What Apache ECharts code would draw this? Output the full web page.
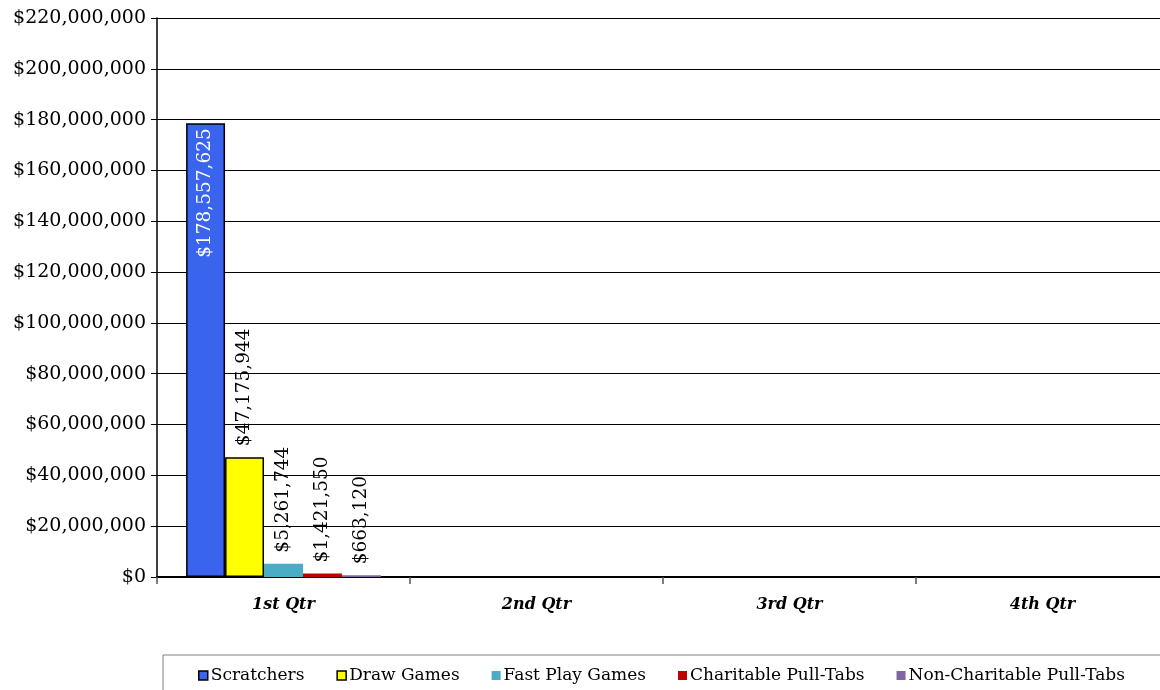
<!DOCTYPE html>
<html>
<head>
<meta charset="utf-8">
<script src="https://cdn.jsdelivr.net/npm/echarts@6/dist/echarts.min.js"></script>
<style>
  html, body { margin: 0; padding: 0; background: #fff; overflow: hidden; }
  #chart { width: 1172px; height: 690px; }
</style>
</head>
<body>
<div id="chart"></div>
<script>
// Quarterly sales by product line
const quarters = ['1st Qtr', '2nd Qtr', '3rd Qtr', '4th Qtr'];
const seriesNames = ['Scratchers', 'Draw Games', 'Fast Play Games', 'Charitable Pull-Tabs', 'Non-Charitable Pull-Tabs'];
const scratchers = [178557625, null, null, null];
const drawGames = [47175944, null, null, null];
const fastPlay = [5261744, null, null, null];
const charitable = [1421550, null, null, null];
const nonCharitable = [663120, null, null, null];
const seriesColors = ['#3a63ee', '#ffff00', '#4bacc6', '#c00000', '#8064a2'];
const seriesBorders = ['#000', '#000', null, null, null];

const seriesData = [scratchers, drawGames, fastPlay, charitable, nonCharitable];
const FONT = '"DejaVu Serif", "Liberation Serif", serif';

function money(v) {
  return '$' + Math.round(v).toLocaleString('en-US');
}

const series = seriesNames.map((name, i) => ({
  name: name,
  type: 'bar',
  data: seriesData[i],
  barGap: '0%',
  barCategoryGap: '23%',
  itemStyle: {
    color: seriesColors[i],
    borderColor: seriesBorders[i] || seriesColors[i],
    borderWidth: seriesBorders[i] ? 1.5 : 0
  },
  label: {
    show: true,
    rotate: 90,
    position: i === 0 ? 'insideTop' : 'top',
    align: i === 0 ? 'right' : 'left',
    verticalAlign: 'middle',
    distance: i === 0 ? 5 : 11,
    color: i === 0 ? '#ffffff' : '#000000',
    fontFamily: FONT,
    fontSize: 18.5,
    formatter: p => (p.value == null ? '' : money(p.value))
  }
}));

const chart = echarts.init(document.getElementById('chart'), null, { renderer: 'canvas' });
chart.setOption({
  animation: false,
  backgroundColor: '#ffffff',
  grid: { left: 157, top: 18, right: 3, height: 559, containLabel: false },
  legend: {
    data: seriesNames.map((n, i) => ({
      name: n,
      itemStyle: {
        color: seriesColors[i],
        borderColor: seriesBorders[i] ? '#000' : seriesColors[i],
        borderWidth: seriesBorders[i] ? 1.5 : 0
      }
    })),
    left: 163,
    top: 655,
    width: 1100,
    itemWidth: 9,
    itemHeight: 9,
    itemGap: 32,
    padding: [12, 60, 20, 35],
    borderColor: '#808080',
    borderWidth: 1,
    icon: 'rect',
    textStyle: { fontFamily: FONT, fontSize: 17, color: '#000', padding: [0, 0, 0, -2] }
  },
  xAxis: {
    type: 'category',
    data: quarters,
    axisLine: { lineStyle: { color: '#000', width: 2 } },
    axisTick: { show: true, length: 7, lineStyle: { color: '#555', width: 1.5 } },
    axisLabel: {
      fontFamily: FONT, fontSize: 16, fontStyle: 'italic', fontWeight: 'bold',
      color: '#000', margin: 20
    },
    splitLine: { show: false }
  },
  yAxis: {
    type: 'value',
    min: 0,
    max: 220000000,
    interval: 20000000,
    axisLine: { show: true, lineStyle: { color: '#000', width: 1.5 } },
    axisTick: { show: true, length: 6, lineStyle: { color: '#000' } },
    axisLabel: {
      fontFamily: FONT, fontSize: 19, color: '#000', margin: 11,
      formatter: v => money(v)
    },
    splitLine: { show: true, lineStyle: { color: '#000', width: 1 } }
  },
  series: series
});
</script>
</body>
</html>
